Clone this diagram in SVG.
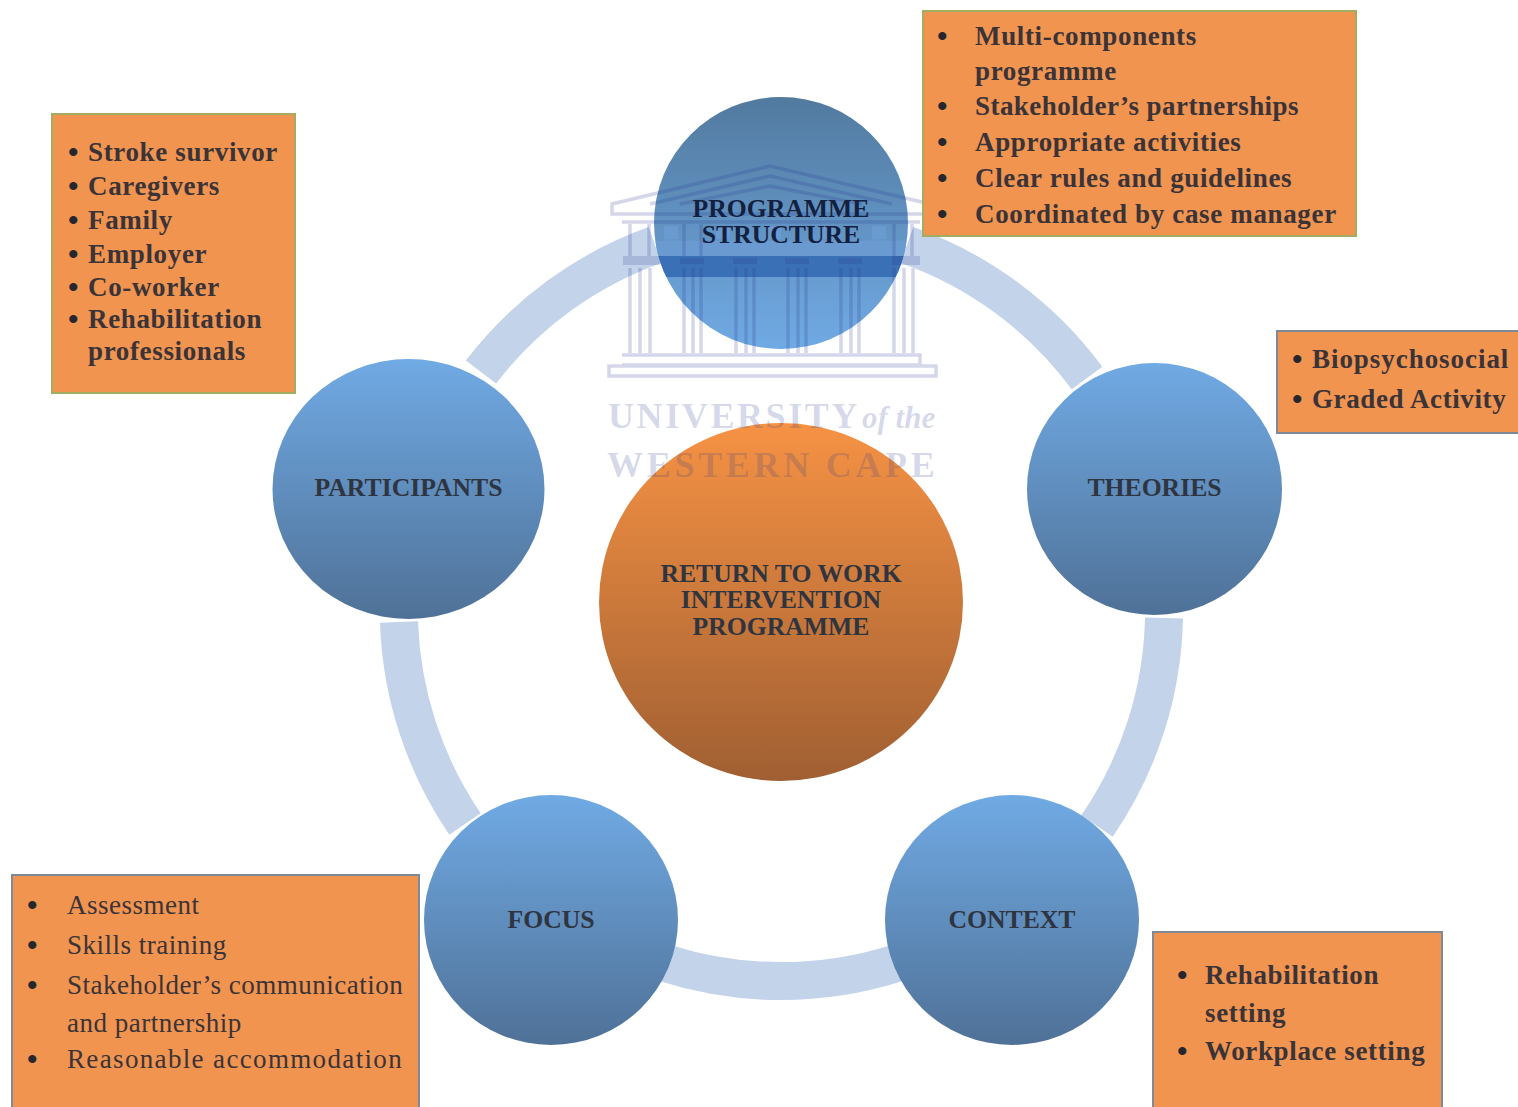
<svg xmlns="http://www.w3.org/2000/svg" width="1518" height="1107" viewBox="0 0 1518 1107">
<style>
text{font-family:"Liberation Serif","Times New Roman",serif;fill:#3a3338}
.b{font-size:27px;font-weight:bold;letter-spacing:.65px}
.r{font-size:27px;letter-spacing:.5px;fill:#47363c}
.d{font-size:30px;font-weight:bold;fill:#26262e;letter-spacing:0}
.n{font-size:25.700px;font-weight:bold;text-anchor:middle;fill:#2f3540}
.box{fill:#f09450;stroke-width:2}
.g{stroke:#a3ad62}.s{stroke:#7f8a99}
.arc{fill:none;stroke:#c2d3ea;stroke-width:38}
.wm{fill:#26398f;fill-opacity:.18;stroke:none}
.wl{fill:none;stroke:#26398f;stroke-opacity:.2;stroke-width:3.500}
.wt{font-size:36px;font-weight:bold;letter-spacing:2.600px;fill:#26398f;fill-opacity:.2}
</style>
<defs>
<linearGradient id="bd" x1="0" y1="0" x2="0" y2="1"><stop offset="0" stop-color="#70aae4"/><stop offset="1" stop-color="#4f7197"/></linearGradient>
<linearGradient id="bu" x1="0" y1="0" x2="0" y2="1"><stop offset="0" stop-color="#527a9f"/><stop offset="1" stop-color="#70aae4"/></linearGradient>
<linearGradient id="or" x1="0" y1="0" x2="0" y2="1"><stop offset="0" stop-color="#f69244"/><stop offset="1" stop-color="#a05f32"/></linearGradient>
<clipPath id="top"><ellipse cx="781" cy="223" rx="127" ry="126"/></clipPath>
</defs>
<rect width="1518" height="1107" fill="#fff"/>
<g id="connectors">
<path class="arc" d="M907 245A381 381 0 0 1 1087 378"/>
<path class="arc" d="M1164 618A381 381 0 0 1 1097 826"/>
<path class="arc" d="M897 963A381 381 0 0 1 665 963"/>
<path class="arc" d="M465 824A381 381 0 0 1 399 622"/>
<path class="arc" d="M481 372A381 381 0 0 1 655 245"/>
</g>
<g id="node-programme-structure"><ellipse cx="781" cy="223" rx="127" ry="126" fill="url(#bu)"/></g>
<g id="node-participants"><ellipse cx="408.500" cy="489" rx="136" ry="130" fill="url(#bd)"/><text class="n" x="408.500" y="496">PARTICIPANTS</text></g>
<g id="node-theories"><ellipse cx="1154.500" cy="489" rx="127.500" ry="126" fill="url(#bd)"/><text class="n" x="1154.500" y="496">THEORIES</text></g>
<g id="node-context"><ellipse cx="1012" cy="920" rx="127" ry="125" fill="url(#bd)"/><text class="n" x="1012" y="928">CONTEXT</text></g>
<g id="node-focus"><ellipse cx="551" cy="920" rx="127" ry="125" fill="url(#bd)"/><text class="n" x="551" y="928">FOCUS</text></g>
<g id="node-centre"><ellipse cx="781" cy="602" rx="182" ry="179" fill="url(#or)"/>
<text class="n" x="781" y="582">RETURN TO WORK</text><text class="n" x="781" y="608">INTERVENTION</text><text class="n" x="781" y="635">PROGRAMME</text></g>
<g id="watermark">
<path class="wl" d="M612 214V204L770 166L930 204V214Z"/>
<path class="wl" d="M650 204L770 176L892 204"/>
<path class="wl" d="M680 204L770 186L862 204"/>
<path class="wl" d="M622 222H920"/>
<g clip-path="url(#top)"><rect x="640" y="241" width="280" height="15" fill="#6a9ad0"/><rect x="640" y="256" width="280" height="21" fill="#3a70b5"/><path d="M664 226h14v13h-14zM716 226h14v13h-14zM769 226h12v13h-12zM820 226h14v13h-14zM872 226h14v13h-14z" fill="#6a9ad0"/></g>
<path class="wl" d="M630 224V256M649 224V256M684 224V256M701 224V256M894 224V256M912 224V256"/>
<path class="wm" d="M623 256h37v9h-37zM680 258h24v6h-24zM733 258h24v6h-24zM785 258h24v6h-24zM838 258h24v6h-24zM892 256h28v9h-28z"/>
<path class="wl" d="M630 268V353M640 268V353M650 268V353M684 268V353M693 268V353M701 268V353M736 268V353M746 268V353M754 268V353M788 268V353M798 268V353M806 268V353M841 268V353M851 268V353M859 268V353M894 268V353M904 268V353M913 268V353"/>
<path class="wl" d="M622 355H920V365H622M609 366H936V376H609Z"/>
<text class="wt" x="608" y="428">UNIVERSITY</text>
<text x="862" y="428" style="font-size:31px;font-style:italic;font-weight:bold;fill:#26398f;fill-opacity:.2">of the</text>
<text class="wt" x="607" y="477" style="letter-spacing:3.700px">WESTERN CAPE</text>
</g>
<text class="n" x="781" y="217" style="fill:#14203f">PROGRAMME</text>
<text class="n" x="781" y="243" style="fill:#14203f">STRUCTURE</text>
<g id="box-programme">
<rect class="box g" x="923" y="11" width="433" height="225"/>
<g class="b">
<text class="d" x="937" y="46">•</text><text x="975" y="45">Multi-components</text><text x="975" y="80">programme</text>
<text class="d" x="937" y="116">•</text><text x="975" y="115" style="letter-spacing:.45px">Stakeholder’s partnerships</text>
<text class="d" x="937" y="152">•</text><text x="975" y="151">Appropriate activities</text>
<text class="d" x="937" y="188">•</text><text x="975" y="187">Clear rules and guidelines</text>
<text class="d" x="937" y="224">•</text><text x="975" y="223">Coordinated by case manager</text>
</g></g>
<g id="box-participants">
<rect class="box g" x="52" y="114" width="243" height="279"/>
<g class="b">
<text class="d" x="68" y="162">•</text><text x="88" y="161">Stroke survivor</text>
<text class="d" x="68" y="196">•</text><text x="88" y="195">Caregivers</text>
<text class="d" x="68" y="230">•</text><text x="88" y="229">Family</text>
<text class="d" x="68" y="264">•</text><text x="88" y="263">Employer</text>
<text class="d" x="68" y="297">•</text><text x="88" y="296">Co-worker</text>
<text class="d" x="68" y="329">•</text><text x="88" y="328">Rehabilitation</text><text x="88" y="360">professionals</text>
</g></g>
<g id="box-theories">
<rect class="box s" x="1277" y="331" width="245" height="102"/>
<g class="b" style="letter-spacing:.95px">
<text class="d" x="1292" y="369">•</text><text x="1312" y="368">Biopsychosocial</text>
<text class="d" x="1292" y="409">•</text><text x="1312" y="408" style="letter-spacing:.6px">Graded Activity</text>
</g></g>
<g id="box-focus">
<rect class="box s" x="12" y="875" width="407" height="240"/>
<g class="r">
<text class="d" x="27" y="915">•</text><text x="67" y="914">Assessment</text>
<text class="d" x="27" y="955">•</text><text x="67" y="954">Skills training</text>
<text class="d" x="27" y="995">•</text><text x="67" y="994">Stakeholder’s communication</text><text x="67" y="1032">and partnership</text>
<text class="d" x="27" y="1069">•</text><text x="67" y="1068" style="letter-spacing:1.35px">Reasonable accommodation</text>
</g></g>
<g id="box-context">
<rect class="box s" x="1153" y="932" width="289" height="185"/>
<g class="b">
<text class="d" x="1177" y="985">•</text><text x="1205" y="984">Rehabilitation</text><text x="1205" y="1022">setting</text>
<text class="d" x="1177" y="1061">•</text><text x="1205" y="1060">Workplace setting</text>
</g></g>
</svg>
